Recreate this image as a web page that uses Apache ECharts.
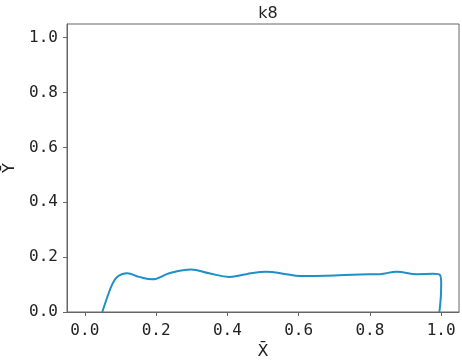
<!DOCTYPE html>
<html>
<head>
<meta charset="utf-8">
<script src="https://cdn.jsdelivr.net/npm/echarts@6/dist/echarts.min.js"></script>
<style>html,body{margin:0;padding:0;background:#fff}#c{width:462px;height:360px}</style>
</head>
<body>
<div id="c"></div>
<script>
const titleText = 'k8';
const xName = 'X\u0304';
const yName = 'Y\u0304';
const xTicks = [0, 0.2, 0.4, 0.6, 0.8, 1.0];
const yTicks = [0, 0.2, 0.4, 0.6, 0.8, 1.0];
const xValues = [0.049, 0.062, 0.075, 0.09, 0.119, 0.152, 0.19, 0.237, 0.298, 0.349, 0.406, 0.453, 0.509, 0.565, 0.603, 0.678, 0.772, 0.828, 0.875, 0.932, 0.978, 0.997, 1.0, 0.999, 0.995];
const yValues = [0, 0.05, 0.095, 0.127, 0.141, 0.128, 0.119, 0.141, 0.155, 0.141, 0.128, 0.138, 0.147, 0.138, 0.131, 0.132, 0.137, 0.138, 0.147, 0.138, 0.139, 0.134, 0.104, 0.055, 0];

const chart = echarts.init(document.getElementById('c'), null, {renderer: 'canvas'});
const labelFont = {fontFamily: 'DejaVu Sans Mono', fontSize: 16, color: '#222'};
chart.setOption({
  animation: false,
  title: {text: titleText, left: 263, textAlign: 'center', top: 1,
    textStyle: {fontFamily: 'DejaVu Sans', fontSize: 16, fontWeight: 'normal', color: '#222'}},
  grid: {left: 67, right: 3, top: 24, bottom: 48, show: true, borderColor: '#666', borderWidth: 1, backgroundColor: '#fff', containLabel: false, outerBoundsMode: 'none'},
  graphic: [{
    type: 'text', x: 10, y: 168, rotation: Math.PI / 2,
    style: {text: yName, font: '16px "DejaVu Sans"', fill: '#222', align: 'center', verticalAlign: 'middle'}
  }],
  xAxis: {
    type: 'value', min: -0.05, max: 1.05,
    name: xName, nameLocation: 'middle', nameGap: 30,
    nameTextStyle: {fontFamily: 'DejaVu Sans', fontSize: 16, color: '#222'},
    axisLine: {show: true, onZero: false, lineStyle: {color: '#666'}},
    axisTick: {show: true, length: 4, lineStyle: {color: '#666'}, customValues: xTicks},
    axisLabel: Object.assign({margin: 11, customValues: xTicks, formatter: v => v.toFixed(1)}, labelFont),
    splitLine: {show: false}
  },
  yAxis: {
    type: 'value', min: 0, max: 1.05,
    axisLine: {show: true, onZero: false, lineStyle: {color: '#666'}},
    axisTick: {show: true, length: 4, lineStyle: {color: '#666'}, customValues: yTicks},
    axisLabel: Object.assign({margin: 9, customValues: yTicks, formatter: v => v.toFixed(1)}, labelFont),
    splitLine: {show: false}
  },
  series: [{
    type: 'line',
    data: xValues.map((x, i) => [x, yValues[i]]),
    smooth: 0.4,
    showSymbol: false,
    lineStyle: {color: '#1f8fc6', width: 2}
  }]
});
</script>
</body>
</html>
